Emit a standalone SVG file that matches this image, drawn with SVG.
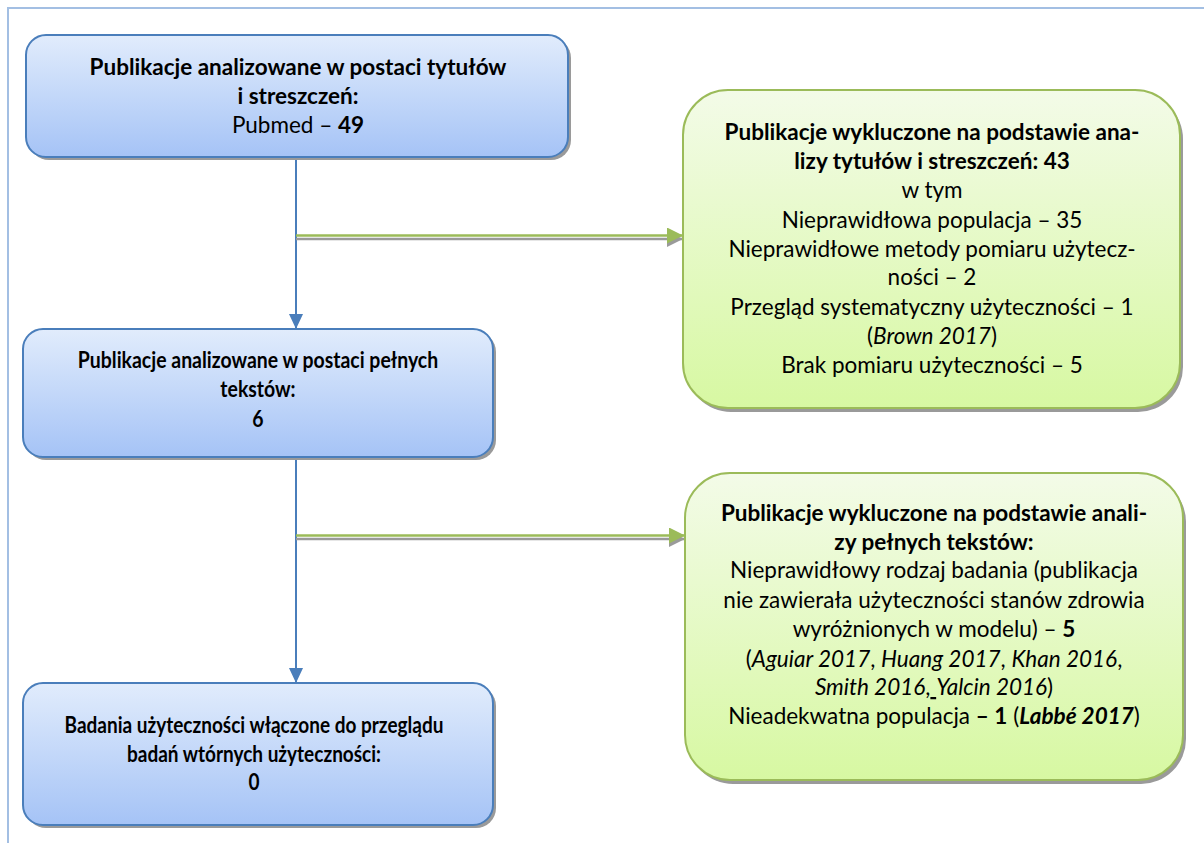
<svg xmlns="http://www.w3.org/2000/svg" width="1204" height="843" viewBox="0 0 1204 843">
<defs>
<linearGradient id="gBlue" x1="0" y1="0" x2="0" y2="1">
<stop offset="0" stop-color="#e1ecfc"/>
<stop offset="1" stop-color="#a5c3f6"/>
</linearGradient>
<linearGradient id="gGreen" x1="0" y1="0" x2="0" y2="1">
<stop offset="0" stop-color="#f3fbe8"/>
<stop offset="1" stop-color="#d7f8a2"/>
</linearGradient>
<marker id="arrBlue" markerWidth="15" markerHeight="14" refX="15" refY="7" orient="auto" markerUnits="userSpaceOnUse">
<path d="M0,0 L15,7 L0,14 Z" fill="#4a7ebb"/>
</marker>
<marker id="arrGreen" markerWidth="16" markerHeight="16" refX="16" refY="8" orient="auto" markerUnits="userSpaceOnUse">
<path d="M0,0 L16,8 L0,16 Z" fill="#9bbb59"/>
</marker>
<marker id="arrGray" markerWidth="16" markerHeight="16" refX="16" refY="8" orient="auto" markerUnits="userSpaceOnUse">
<path d="M0,0 L16,8 L0,16 Z" fill="#9a9a9a"/>
</marker>
</defs>
<style>
.frame{stroke:#a3bfe3;stroke-width:2;fill:none}
.blue{fill:url(#gBlue);stroke:#4a7ebb;stroke-width:2}
.green{fill:url(#gGreen);stroke:#9bbb59;stroke-width:2}
.shadow{fill:#9a9a9a}
text{font-family:Lato,"Noto Sans","Liberation Sans",sans-serif;font-size:22.5px;fill:#000;text-anchor:middle}
.b{font-weight:bold}
.i{font-style:italic}
.vline{stroke:#4a7ebb;stroke-width:2;fill:none}
.gline{stroke:#9bbb59;stroke-width:2.5;fill:none}
.sline{stroke:#9a9a9a;stroke-width:2.5;fill:none}
</style>
<rect width="1204" height="843" fill="#ffffff"/>
<path class="frame" d="M8,843 L8,8 L1204,8"/>

<g id="connectors">
<line class="vline" x1="296" y1="157" x2="296" y2="329" marker-end="url(#arrBlue)"/>
<line class="vline" x1="296" y1="457" x2="296" y2="683" marker-end="url(#arrBlue)"/>
<line class="sline" x1="296" y1="239" x2="683" y2="239" marker-end="url(#arrGray)"/>
<line class="gline" x1="296" y1="235.5" x2="683" y2="235.5" marker-end="url(#arrGreen)"/>
<line class="sline" x1="296" y1="539" x2="685" y2="539" marker-end="url(#arrGray)"/>
<line class="gline" x1="296" y1="535.5" x2="685" y2="535.5" marker-end="url(#arrGreen)"/>
</g>

<g id="box1">
<rect class="shadow" x="29" y="38" width="542" height="122" rx="20"/>
<rect class="blue" x="26" y="35" width="542" height="122" rx="20"/>
<text x="298" y="75" class="b">Publikacje analizowane w postaci tytułów</text>
<text x="298" y="104" class="b">i streszczeń:</text>
<text x="298" y="133">Pubmed – <tspan class="b">49</tspan></text>
</g>

<g id="box2">
<rect class="shadow" x="26" y="332" width="470" height="128" rx="20"/>
<rect class="blue" x="23" y="329" width="470" height="128" rx="20"/>
<g transform="matrix(0.865,0,0,1,34.83,0)">
<text x="258" y="368" class="b">Publikacje analizowane w postaci pełnych</text>
<text x="258" y="397" class="b">tekstów:</text>
<text x="258" y="427" class="b">6</text>
</g>
</g>

<g id="box3">
<rect class="shadow" x="26" y="686" width="470" height="142" rx="20"/>
<rect class="blue" x="23" y="683" width="470" height="142" rx="20"/>
<g transform="matrix(0.845,0,0,1,39.37,0)">
<text x="254" y="733" class="b">Badania użyteczności włączone do przeglądu</text>
<text x="254" y="762" class="b">badań wtórnych użyteczności:</text>
<text x="254" y="790" class="b">0</text>
</g>
</g>

<g id="box4">
<rect class="shadow" x="686" y="94" width="497" height="318" rx="45"/>
<rect class="green" x="683" y="90" width="497" height="318" rx="45"/>
<text x="932" y="140" class="b">Publikacje wykluczone na podstawie ana-</text>
<text x="932" y="169" class="b">lizy tytułów i streszczeń: 43</text>
<text x="932" y="198">w tym</text>
<text x="932" y="228">Nieprawidłowa populacja – 35</text>
<text x="932" y="257">Nieprawidłowe metody pomiaru użytecz-</text>
<text x="932" y="285">ności – 2</text>
<text x="932" y="315">Przegląd systematyczny użyteczności – 1</text>
<text x="932" y="344">(<tspan class="i">Brown 2017</tspan>)</text>
<text x="932" y="373">Brak pomiaru użyteczności – 5</text>
</g>

<g id="box5">
<rect class="shadow" x="688" y="477" width="498" height="307" rx="45"/>
<rect class="green" x="685" y="473" width="498" height="307" rx="45"/>
<text x="934" y="521" class="b">Publikacje wykluczone na podstawie anali-</text>
<text x="934" y="550" class="b">zy pełnych tekstów:</text>
<text x="934" y="578">Nieprawidłowy rodzaj badania (publikacja</text>
<text x="934" y="608">nie zawierała użyteczności stanów zdrowia</text>
<text x="934" y="637">wyróżnionych w modelu) – <tspan class="b">5</tspan></text>
<text x="934" y="667">(<tspan class="i">Aguiar 2017</tspan>, <tspan class="i">Huang 2017</tspan>, <tspan class="i">Khan 2016</tspan>,</text>
<text x="934" y="695"><tspan class="i">Smith 2016</tspan>,<tspan text-decoration="underline"> </tspan><tspan class="i">Yalcin 2016</tspan>)</text>
<text x="934" y="724">Nieadekwatna populacja <tspan class="b">– 1</tspan> (<tspan class="b i">Labbé 2017</tspan>)</text>
</g>
</svg>
